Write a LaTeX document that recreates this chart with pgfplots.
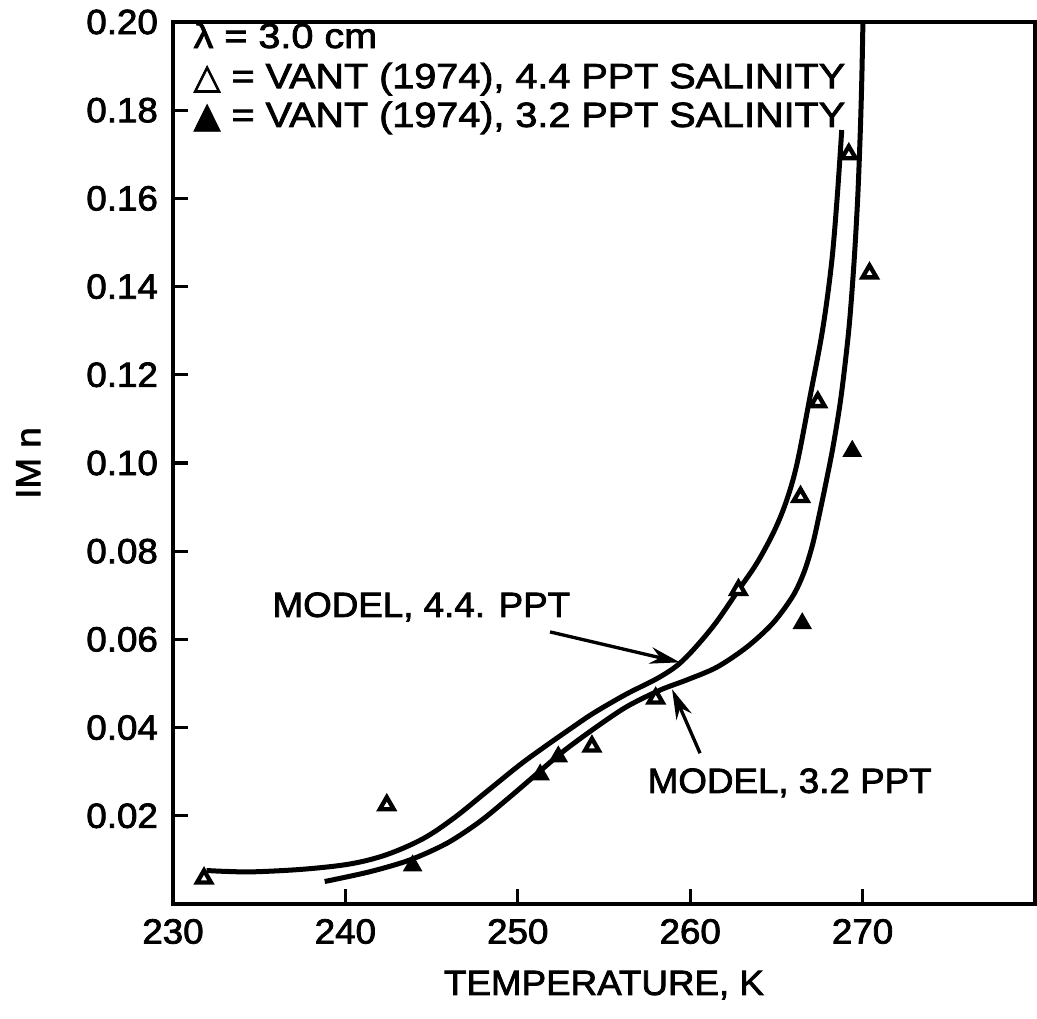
\documentclass[border=0pt]{standalone}
\usepackage{fontspec}
\setmainfont[FakeStretch=1.05,FakeBold=2.2]{Liberation Sans}
\newfontfamily\legfont[FakeStretch=1.13,FakeBold=2.2]{Liberation Sans}
\newfontfamily\sym[FakeBold=2]{DejaVu Sans}
\usepackage{pgfplots}
\pgfplotsset{compat=1.18}
\usetikzlibrary{arrows.meta}

\pgfplotstableread{
x y
231.95 0.0076
233.0 0.0074
234.7 0.0073
237.6 0.0079
240.3 0.0091
242.4 0.0112
244.5 0.0148
246.3 0.0195
248.2 0.0255
250.1 0.0315
251.5 0.0355
253.0 0.0396
254.4 0.0433
256.3 0.0476
258.25 0.0515
259.6 0.0553
261.3 0.0628
262.8 0.0712
263.9 0.0775
264.9 0.0848
265.6 0.0916
266.2 0.0999
266.95 0.1150
267.68 0.1302
268.2 0.1453
268.53 0.1604
268.79 0.1755
}\modelhigh

\pgfplotstableread{
x y
238.8 0.0051
241.4 0.0073
243.75 0.0100
245.9 0.0138
247.8 0.0187
249.55 0.0243
251.1 0.0295
252.6 0.0345
254.4 0.0397
256.3 0.0447
258.25 0.0485
259.8 0.0508
261.55 0.0537
263.3 0.0583
264.8 0.0637
265.95 0.0698
266.6 0.0752
267.1 0.0815
267.5 0.0885
267.9 0.0960
268.3 0.1040
268.75 0.1150
269.2 0.1302
269.5 0.1453
269.72 0.1604
269.87 0.1755
269.96 0.1880
270.02 0.2000
}\modellow

\pgfplotstableread{
x y
231.8 0.0058
242.4 0.0224
254.3 0.0357
258.0 0.0466
262.8 0.0712
266.4 0.0923
267.4 0.1138
270.4 0.1430
269.2 0.1700
}\vanthigh

\pgfplotstableread{
x y
243.9 0.0087
251.3 0.0293
252.35 0.0334
266.5 0.0636
269.4 0.1027
}\vantlow

\begin{document}
\begin{tikzpicture}[font=\fontsize{10.5pt}{12.6pt}\selectfont]
\begin{axis}[
  scale only axis,
  width=258.6pt, height=264.6pt,
  xmin=230, xmax=280, ymin=0, ymax=0.2,
  axis line style={line width=1.2pt},
  xtick={230,240,250,260,270},
  xticklabels={230,240,250,260,270},
  ytick={0.02,0.04,0.06,0.08,0.10,0.12,0.14,0.16,0.18,0.20},
  yticklabels={0.02,0.04,0.06,0.08,0.10,0.12,0.14,0.16,0.18,0.20},
  tick align=inside,
  xtick pos=left, ytick pos=left,
  major tick length=4.5pt,
  tick style={line width=1pt, black},
  xticklabel style={yshift=-1pt},
  yticklabel style={xshift=-1pt},
  every axis x label/.style={at={(axis description cs:0.5,-0.092)}, anchor=center},
  every axis y label/.style={at={(axis description cs:-0.168,0.5)}, anchor=center, rotate=90},
  xlabel={TEMPERATURE, K},
  ylabel={IM n},
  clip=false,
]
\addplot[black, line width=1.5pt, smooth, tension=0.55] table[x=x,y=y] {\modelhigh};
\addplot[black, line width=1.5pt, smooth, tension=0.5] table[x=x,y=y] {\modellow};
\addplot[only marks, mark=triangle*, mark size=2.4pt, mark options={fill=white, draw=black, line width=1.3pt}] table[x=x,y=y] {\vanthigh};
\addplot[only marks, mark=triangle*, mark size=3pt, mark options={fill=black, draw=black}] table[x=x,y=y] {\vantlow};

\node[anchor=base west, inner sep=0pt] at (axis cs:231.16,0.1941) {\legfont λ = 3.0 cm};
\node[anchor=base west, inner sep=0pt] at (axis cs:231.16,0.1850) {{\sym △}\legfont{} = VANT (1974), 4.4 PPT SALINITY};
\node[anchor=base west, inner sep=0pt] at (axis cs:231.16,0.1762) {{\sym ▲}\legfont{} = VANT (1974), 3.2 PPT SALINITY};

\node[anchor=base west, inner sep=0pt] at (axis cs:235.74,0.0651) {MODEL, 4.4. PPT};
\node[anchor=base west, inner sep=0pt] at (axis cs:257.5,0.0252) {MODEL, 3.2 PPT};
\draw[-{Stealth[length=9pt,width=5pt]}, line width=1pt] (axis cs:251.87,0.0617) -- (axis cs:259.4,0.0548);
\draw[-{Stealth[length=9pt,width=5pt]}, line width=1pt] (axis cs:260.57,0.0342) -- (axis cs:258.95,0.0487);
\end{axis}
\pgfresetboundingbox
\path[use as bounding box] (-51.9pt,-34.5pt) rectangle (259.2pt,271.2pt);
\end{tikzpicture}
\end{document}
